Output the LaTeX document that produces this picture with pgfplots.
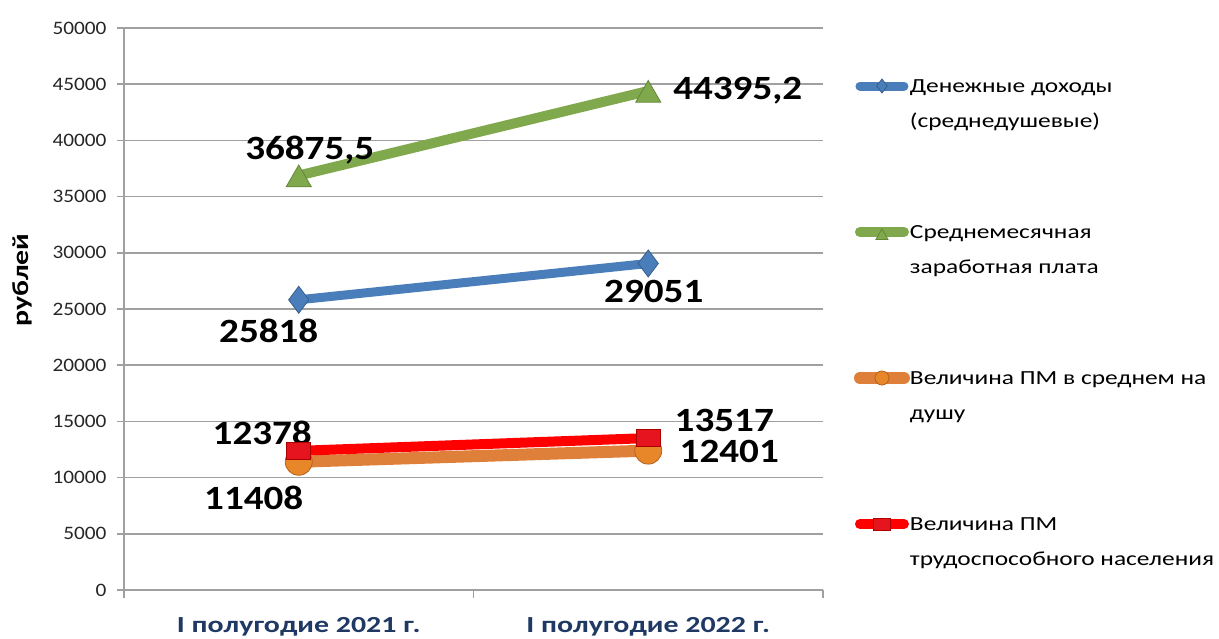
\documentclass[border=0pt]{standalone}
\usepackage{fontspec}
\setmainfont{Carlito}
\newfontfamily\tickfont[FakeStretch=1.12]{Carlito}
\newfontfamily\legfont[FakeStretch=1.27]{Carlito}
\newfontfamily\lblfont[FakeStretch=1.15]{Carlito}
\newfontfamily\xlfont[FakeStretch=1.3]{Carlito}
\newfontfamily\ylfont[FakeStretch=1.3]{Carlito}
\usepackage{pgfplots}
\pgfplotsset{compat=1.18}
\definecolor{cblue}{RGB}{74,126,187}
\definecolor{cblueE}{RGB}{56,93,138}
\definecolor{cgreen}{RGB}{128,168,76}
\definecolor{cgreenE}{RGB}{100,135,55}
\definecolor{corange}{RGB}{222,128,58}
\definecolor{corangeM}{RGB}{232,134,42}
\definecolor{corangeE}{RGB}{180,98,27}
\definecolor{cred}{RGB}{255,0,0}
\definecolor{credM}{RGB}{230,20,30}
\definecolor{credE}{RGB}{170,0,0}
\definecolor{cnavy}{RGB}{31,56,100}
\definecolor{cgrid}{RGB}{160,160,160}
\newcommand{\lt}[2]{\smash{\begin{tabular}[t]{@{}l@{}}#1\\[11pt]#2\end{tabular}}}
\begin{document}
\begin{tikzpicture}
\useasboundingbox (-124pt,-49pt) rectangle (1095pt,590pt);
\begin{axis}[
  at={(0pt,0pt)}, anchor=south west,
  scale only axis, width=699pt, height=562pt,
  xmin=-0.5, xmax=1.5, ymin=0, ymax=50000,
  axis x line*=bottom, axis y line*=left,
  axis line style={draw=cgrid, line width=1.5pt},
  xtick={0,1},
  xticklabels={I полугодие 2021 г., I полугодие 2022 г.},
  minor xtick={-0.5,0.5,1.5},
  major x tick style={draw=none},
  minor x tick style={draw=cgrid, line width=1.5pt},
  minor tick length=8pt,
  major tick length=7pt,
  tick align=outside,
  ytick={0,5000,...,50000},
  scaled y ticks=false,
  major y tick style={draw=cgrid, line width=1.5pt},
  ymajorgrids,
  grid style={draw=cgrid, line width=1.5pt},
  /pgf/number format/1000 sep={},
  /pgf/number format/assume math mode=true,
  yticklabel style={font=\tickfont\fontsize{19}{22}\selectfont, text=black!85, xshift=-7pt},
  xticklabel style={font=\xlfont\bfseries\fontsize{23}{27}\selectfont, text=cnavy, anchor=base, yshift=-36pt},
  ylabel={рублей},
  every axis y label/.style={at={(axis description cs:-0.146,0.552)}, rotate=90, anchor=center, font=\ylfont\bfseries\fontsize{23}{27}\selectfont},
  legend style={at={(axis description cs:1.0443,0.9128)}, anchor=north west, draw=none, fill=none, inner sep=0pt, outer sep=0pt, column sep=0pt, row sep=0pt, font=\legfont\fontsize{20}{24}\selectfont, cells={anchor=base west}, nodes={text depth=131pt, text height=15pt, inner sep=0pt, outer sep=0pt}},
  legend image code/.code={\draw[mark repeat=2, mark phase=2, #1, yshift=6pt, mark size=7pt, line cap=round] plot coordinates {(4pt,0pt) (26pt,0pt) (48pt,0pt)};},
  clip=false,
]
\addplot[cblue, line width=9pt, mark=diamond*, mark size=13.5pt, mark options={fill=cblue, draw=cblueE, line width=0.8pt}]
  coordinates {(0,25818) (1,29051)};
\addlegendentry{\lt{Денежные доходы}{(среднедушевые)}}
\addplot[cgreen, line width=10pt, mark=triangle*, mark size=14.5pt, mark options={fill=cgreen, draw=cgreenE, line width=0.8pt, yshift=-4pt}]
  coordinates {(0,36875.5) (1,44395.2)};
\addlegendentry{\lt{Среднемесячная}{заработная плата}}
\addplot[corange, line width=12pt, mark=*, mark size=13.5pt, mark options={fill=corangeM, draw=corangeE, line width=0.8pt}]
  coordinates {(0,11408) (1,12401)};
\addlegendentry{\lt{Величина ПМ в среднем на}{душу}}
\addplot[cred, line width=10pt, mark=square*, mark size=10pt, mark options={fill=credM, draw=credE, line width=0.8pt, xscale=1.2, yscale=0.85}]
  coordinates {(0,12378) (1,13517)};
\addlegendentry{\lt{Величина ПМ}{трудоспособного населения}}
\begin{scope}[every node/.style={font=\lblfont\bfseries\fontsize{34}{40}\selectfont, anchor=center, inner sep=0pt}]
\node[xshift=11pt, yshift=25pt] at (axis cs:0,36875.5) {36875,5};
\node[xshift=89.5pt, yshift=0pt] at (axis cs:1,44395.2) {44395,2};
\node[xshift=-30pt, yshift=-31pt] at (axis cs:0,25818) {25818};
\node[xshift=5.5pt, yshift=-28pt] at (axis cs:1,29051) {29051};
\node[xshift=-36.5pt, yshift=17.6pt] at (axis cs:0,12378) {12378};
\node[xshift=-45pt, yshift=-36pt] at (axis cs:0,11408) {11408};
\node[xshift=76pt, yshift=17.4pt] at (axis cs:1,13517) {13517};
\node[xshift=81pt, yshift=-1pt] at (axis cs:1,12401) {12401};
\end{scope}
\end{axis}
\end{tikzpicture}
\end{document}
